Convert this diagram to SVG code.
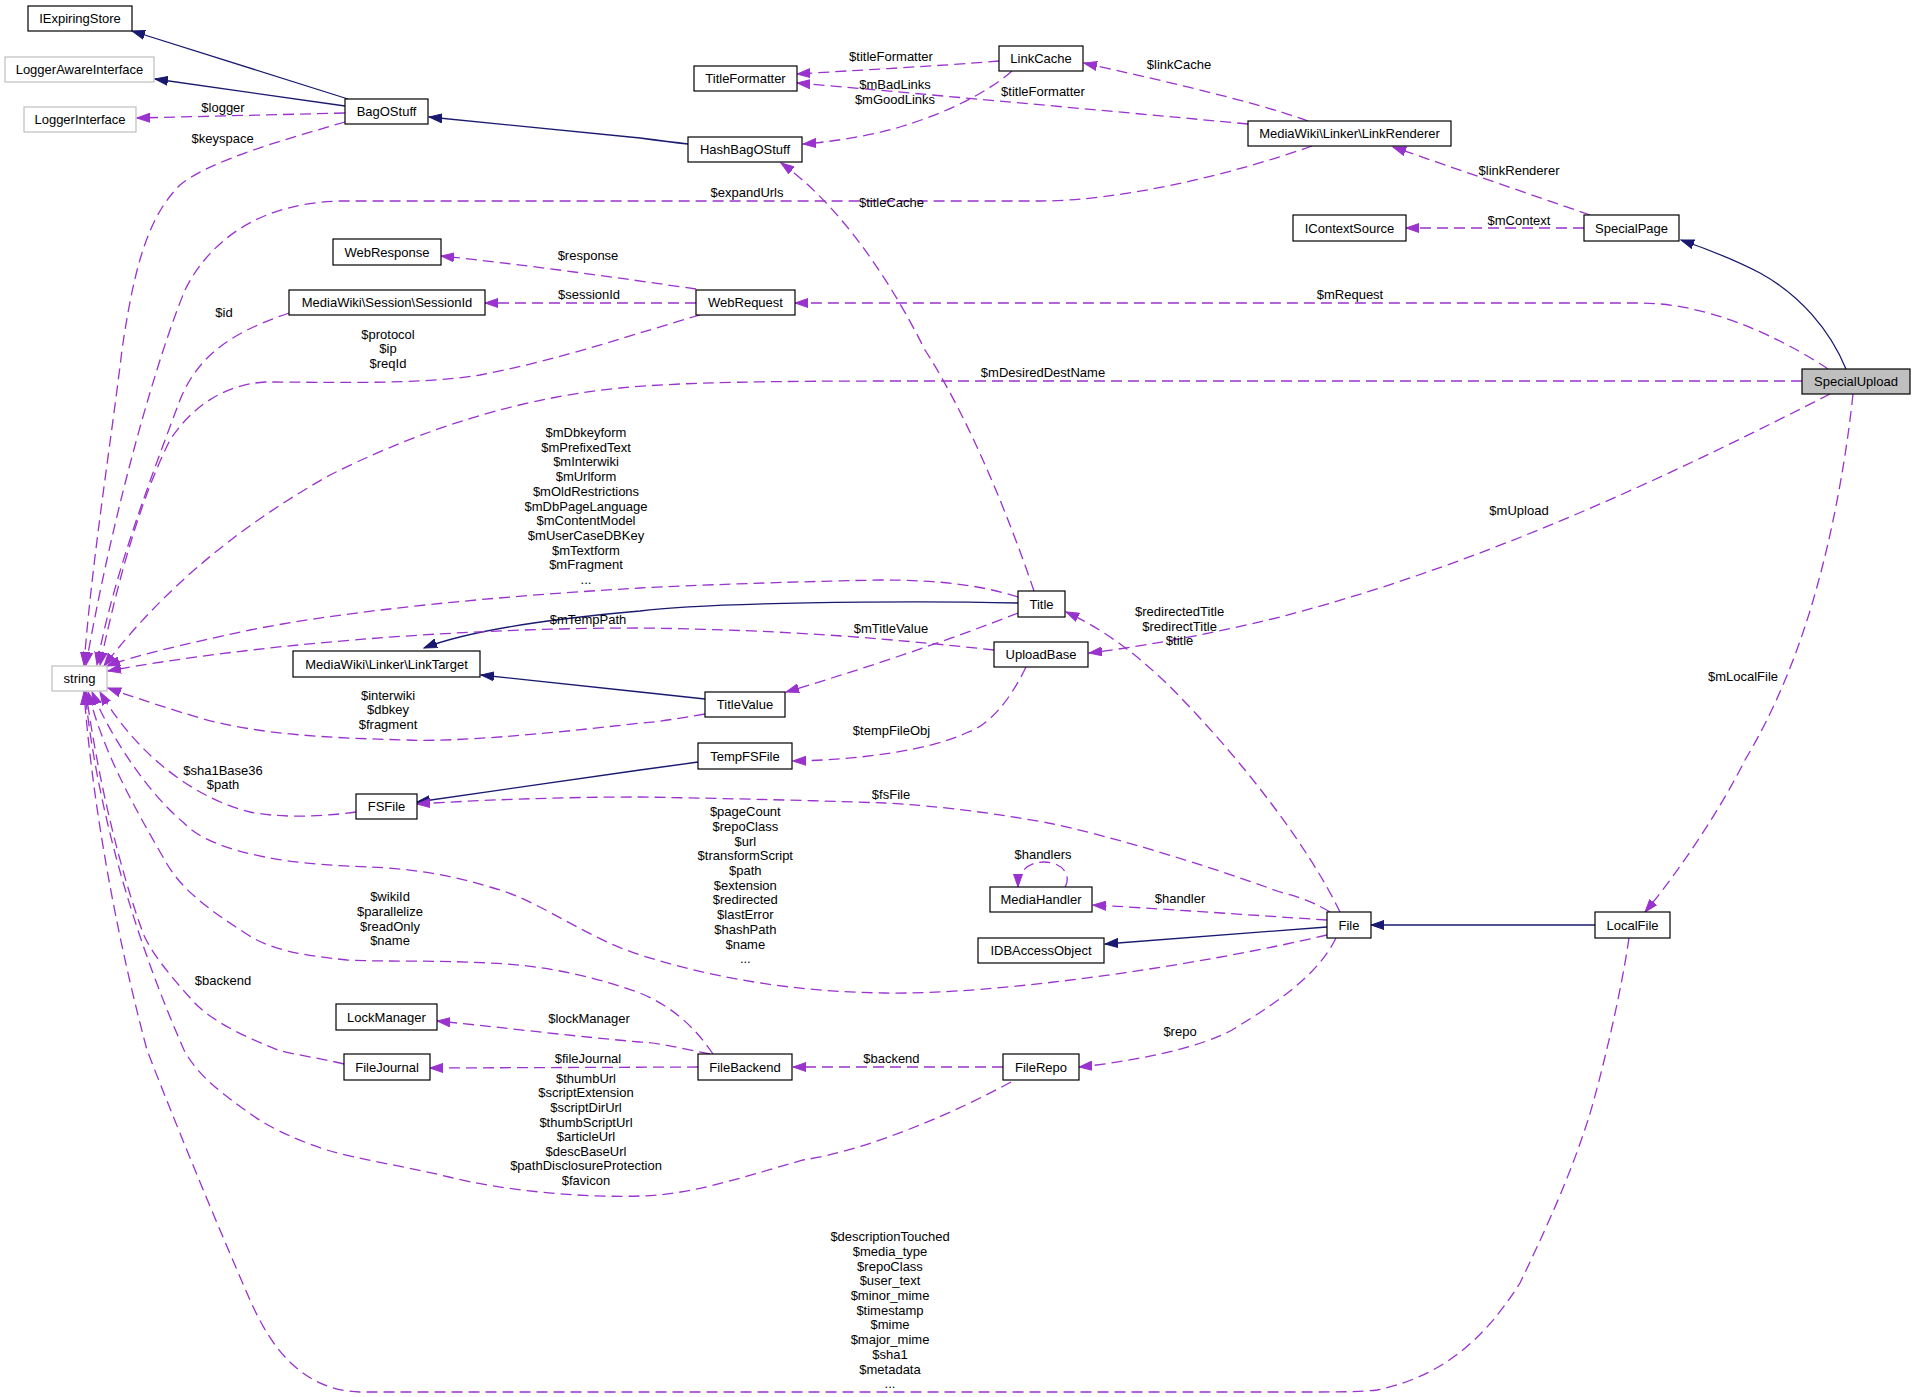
<svg xmlns="http://www.w3.org/2000/svg" width="1915" height="1397" viewBox="0 0 1915 1397">
<defs>
<marker id="an" markerUnits="userSpaceOnUse" markerWidth="14" markerHeight="10" refX="13" refY="5" orient="auto"><path d="M0,0.5 L13,5 L0,9.5 z" fill="#191970" stroke="#191970"/></marker>
<marker id="ap" markerUnits="userSpaceOnUse" markerWidth="14" markerHeight="10" refX="13" refY="5" orient="auto"><path d="M0,0.5 L13,5 L0,9.5 z" fill="#9a32cd" stroke="#9a32cd"/></marker>
<style>
.n rect{fill:#fff;stroke:#000;stroke-width:1.2}
.g rect{fill:#fff;stroke:#bfbfbf;stroke-width:1.2}
.s rect{fill:#bfbfbf;stroke:#000;stroke-width:1.2}
text{font-family:"Liberation Sans",Arial,sans-serif;font-size:13px;fill:#000;text-anchor:middle}
.inh{fill:none;stroke:#191970;stroke-width:1.3;marker-end:url(#an)}
.use{fill:none;stroke:#9a32cd;stroke-width:1.3;stroke-dasharray:11,6;marker-end:url(#ap)}
</style>
</defs>
<rect width="1915" height="1397" fill="#fff"/>
<g id="connectors">
<path class="inh" d="M348,99 L132,31"/>
<path class="inh" d="M345,106 L155,79"/>
<path class="inh" d="M688,144 C670,142 655,140 640,138 L429,117"/>
<path class="inh" d="M1846,369 C1830,330 1800,295 1760,273 C1735,260 1710,250 1681,240"/>
<path class="inh" d="M1018,603 C900,600 700,603 640,611 C560,618 470,630 424,648"/>
<path class="inh" d="M705,699 L640,692 L481,675"/>
<path class="inh" d="M698,762 L640,770 L417,802"/>
<path class="inh" d="M1327,927 L1105,944"/>
<path class="inh" d="M1595,925 L1371,925"/>

<path class="use" d="M345,113 L137,118"/>
<path class="use" d="M345,122 C290,138 210,160 180,185 C150,215 135,260 122,350 C110,450 92,560 84,665"/>
<path class="use" d="M1312,146 C1230,175 1120,201 1040,201 L340,201 C260,203 210,240 185,290 C160,350 115,500 86,665"/>
<path class="use" d="M999,61 C940,66 860,70 797,74"/>
<path class="use" d="M1012,71 C985,95 940,115 900,127 C870,136 830,142 803,144"/>
<path class="use" d="M1248,124 C1100,110 900,92 797,83"/>
<path class="use" d="M1308,121 C1250,100 1150,78 1084,63"/>
<path class="use" d="M1590,215 L1393,147"/>
<path class="use" d="M1584,228 L1406,228"/>
<path class="use" d="M1828,369 C1800,350 1720,303 1640,303 L795,303"/>
<path class="use" d="M696,289 C620,278 520,264 441,256"/>
<path class="use" d="M696,303 L485,303"/>
<path class="use" d="M289,313 C240,330 200,350 180,400 C150,480 112,580 97,665"/>
<path class="use" d="M700,315 C640,332 560,360 480,375 C420,385 330,382 265,382 C220,385 190,410 170,440 C140,500 118,580 100,665"/>
<path class="use" d="M1802,381 L900,381 C780,381 680,382 620,388 C500,400 400,440 330,475 C250,520 170,580 104,666"/>
<path class="use" d="M1018,597 C980,585 940,580 880,580 C780,582 700,585 640,588 C500,596 350,610 250,630 C180,645 130,657 107,666"/>
<path class="use" d="M1034,591 C1010,520 970,420 925,350 C890,280 840,205 781,163"/>
<path class="use" d="M1018,613 C950,640 860,670 786,692"/>
<path class="use" d="M994,650 C900,640 800,630 640,628 C450,628 250,645 108,671"/>
<path class="use" d="M1830,394 C1700,460 1500,560 1280,617 C1200,637 1130,648 1089,653"/>
<path class="use" d="M1340,912 C1310,850 1250,770 1183,700 C1150,665 1110,632 1066,612"/>
<path class="use" d="M1026,667 C1010,700 990,725 966,733 C930,750 860,760 793,761"/>
<path class="use" d="M705,714 C680,718 660,722 640,723 C540,735 450,742 408,740 C330,738 260,735 200,718 C150,703 125,694 108,688"/>
<path class="use" d="M356,812 C320,817 280,818 250,812 C200,800 140,760 100,692"/>
<path class="use" d="M1327,935 C1200,965 1000,995 885,993 C800,992 720,980 640,955 C580,935 540,900 490,887 C440,872 400,868 367,867 C320,865 290,862 265,857 C230,850 200,840 184,823 C150,795 112,740 92,692"/>
<path class="use" d="M713,1054 C700,1035 680,1010 640,993 C590,975 540,965 490,963 C430,960 390,962 347,960 C300,955 270,950 245,933 C210,910 180,890 163,857 C130,800 103,750 88,692"/>
<path class="use" d="M344,1064 C320,1058 295,1055 278,1050 C240,1035 210,1020 192,1000 C165,970 150,950 143,933 C120,870 98,780 86,692"/>
<path class="use" d="M1011,1082 C960,1110 870,1150 803,1160 C740,1178 690,1195 640,1196 C580,1198 500,1190 449,1177 C400,1165 360,1160 327,1150 C290,1138 265,1125 245,1110 C210,1085 195,1070 184,1050 C140,950 98,820 85,692"/>
<path class="use" d="M1629,938 C1620,1000 1600,1080 1589,1117 C1575,1160 1560,1200 1520,1283 C1490,1330 1450,1375 1377,1390 C1360,1392 1340,1392 1300,1392 L360,1392 C300,1390 270,1345 250,1300 C215,1220 170,1110 147,1050 C115,930 92,800 84,692"/>
<path class="use" d="M1330,912 C1310,900 1295,896 1280,892 C1150,845 1060,825 1048,823 C980,810 910,804 885,803 C800,800 700,798 640,797 C560,797 480,800 417,804"/>
<path class="use" d="M1327,920 C1250,915 1150,908 1093,905"/>
<path class="use" d="M1065,887 C1072,875 1062,862 1044,862 C1028,862 1018,872 1018,887"/>
<path class="use" d="M1336,938 C1320,970 1290,995 1232,1030 C1200,1048 1130,1062 1079,1067"/>
<path class="use" d="M1003,1067 L793,1067"/>
<path class="use" d="M698,1067 L430,1068"/>
<path class="use" d="M710,1054 C680,1048 660,1043 640,1042 C560,1035 500,1027 437,1021"/>
<path class="use" d="M1853,394 C1845,470 1830,540 1818,583 C1800,650 1775,710 1745,760 C1720,810 1680,870 1645,912"/>

<text x="223" y="112.2">$logger</text>
<text x="222.6" y="142.8">$keyspace</text>
<text x="891" y="61.2">$titleFormatter</text>
<text x="1043" y="95.8">$titleFormatter</text>
<text x="895" y="88.8">$mBadLinks</text>
<text x="895" y="103.5">$mGoodLinks</text>
<text x="1179" y="68.8">$linkCache</text>
<text x="747" y="196.8">$expandUrls</text>
<text x="891.5" y="206.8">$titleCache</text>
<text x="1519" y="175.2">$linkRenderer</text>
<text x="1519" y="224.5">$mContext</text>
<text x="588" y="259.5">$response</text>
<text x="589" y="298.8">$sessionId</text>
<text x="224" y="316.5">$id</text>
<text x="1350" y="299.2">$mRequest</text>
<text x="388" y="338.8">$protocol<tspan x="388" dy="14.6">$ip</tspan><tspan x="388" dy="14.6">$reqId</tspan></text>
<text x="1043" y="376.8">$mDesiredDestName</text>
<text x="586" y="437">$mDbkeyform<tspan x="586" dy="14.7">$mPrefixedText</tspan><tspan x="586" dy="14.7">$mInterwiki</tspan><tspan x="586" dy="14.7">$mUrlform</tspan><tspan x="586" dy="14.7">$mOldRestrictions</tspan><tspan x="586" dy="14.7">$mDbPageLanguage</tspan><tspan x="586" dy="14.7">$mContentModel</tspan><tspan x="586" dy="14.7">$mUserCaseDBKey</tspan><tspan x="586" dy="14.7">$mTextform</tspan><tspan x="586" dy="14.7">$mFragment</tspan><tspan x="586" dy="14.7">...</tspan></text>
<text x="1519" y="515.2">$mUpload</text>
<text x="1179.6" y="616.2">$redirectedTitle<tspan x="1179.6" dy="14.6">$redirectTitle</tspan><tspan x="1179.6" dy="14.6">$title</tspan></text>
<text x="588" y="623.8">$mTempPath</text>
<text x="891" y="632.8">$mTitleValue</text>
<text x="1743" y="681.2">$mLocalFile</text>
<text x="388" y="699.5">$interwiki<tspan x="388" dy="14.7">$dbkey</tspan><tspan x="388" dy="14.7">$fragment</tspan></text>
<text x="891.5" y="735.2">$tempFileObj</text>
<text x="223" y="775.2">$sha1Base36<tspan x="223" dy="14.2">$path</tspan></text>
<text x="891" y="798.8">$fsFile</text>
<text x="745.3" y="816.2">$pageCount<tspan x="745.3" dy="14.7">$repoClass</tspan><tspan x="745.3" dy="14.7">$url</tspan><tspan x="745.3" dy="14.7">$transformScript</tspan><tspan x="745.3" dy="14.7">$path</tspan><tspan x="745.3" dy="14.7">$extension</tspan><tspan x="745.3" dy="14.7">$redirected</tspan><tspan x="745.3" dy="14.7">$lastError</tspan><tspan x="745.3" dy="14.7">$hashPath</tspan><tspan x="745.3" dy="14.7">$name</tspan><tspan x="745.3" dy="14.7">...</tspan></text>
<text x="1043" y="858.8">$handlers</text>
<text x="1180" y="903.2">$handler</text>
<text x="390" y="901.2">$wikiId<tspan x="390" dy="14.7">$parallelize</tspan><tspan x="390" dy="14.7">$readOnly</tspan><tspan x="390" dy="14.7">$name</tspan></text>
<text x="223" y="984.5">$backend</text>
<text x="589" y="1022.8">$lockManager</text>
<text x="1180" y="1035.5">$repo</text>
<text x="588" y="1062.8">$fileJournal</text>
<text x="891.4" y="1062.8">$backend</text>
<text x="586" y="1082.8">$thumbUrl<tspan x="586" dy="14.6">$scriptExtension</tspan><tspan x="586" dy="14.6">$scriptDirUrl</tspan><tspan x="586" dy="14.6">$thumbScriptUrl</tspan><tspan x="586" dy="14.6">$articleUrl</tspan><tspan x="586" dy="14.6">$descBaseUrl</tspan><tspan x="586" dy="14.6">$pathDisclosureProtection</tspan><tspan x="586" dy="14.6">$favicon</tspan></text>
<text x="890" y="1241.2">$descriptionTouched<tspan x="890" dy="14.7">$media_type</tspan><tspan x="890" dy="14.7">$repoClass</tspan><tspan x="890" dy="14.7">$user_text</tspan><tspan x="890" dy="14.7">$minor_mime</tspan><tspan x="890" dy="14.7">$timestamp</tspan><tspan x="890" dy="14.7">$mime</tspan><tspan x="890" dy="14.7">$major_mime</tspan><tspan x="890" dy="14.7">$sha1</tspan><tspan x="890" dy="14.7">$metadata</tspan><tspan x="890" dy="14.7">...</tspan></text>
</g>

<g id="IExpiringStore" class="n"><rect x="28" y="6" width="104" height="25"/><text x="80" y="23">IExpiringStore</text></g>
<g id="LoggerAwareInterface" class="g"><rect x="5" y="57" width="149" height="25"/><text x="79.5" y="74">LoggerAwareInterface</text></g>
<g id="LoggerInterface" class="g"><rect x="24" y="107" width="112" height="25"/><text x="80" y="124">LoggerInterface</text></g>
<g id="BagOStuff" class="n"><rect x="345" y="99" width="83" height="25"/><text x="386.5" y="116">BagOStuff</text></g>
<g id="TitleFormatter" class="n"><rect x="694" y="66" width="103" height="25"/><text x="745.5" y="83">TitleFormatter</text></g>
<g id="LinkCache" class="n"><rect x="999" y="46" width="84" height="25"/><text x="1041" y="63">LinkCache</text></g>
<g id="HashBagOStuff" class="n"><rect x="688" y="137" width="114" height="25"/><text x="745" y="154">HashBagOStuff</text></g>
<g id="LinkRenderer" class="n"><rect x="1248" y="121" width="203" height="25"/><text x="1349.5" y="138">MediaWiki\Linker\LinkRenderer</text></g>
<g id="IContextSource" class="n"><rect x="1293" y="215" width="113" height="26"/><text x="1349.5" y="232.5">IContextSource</text></g>
<g id="SpecialPage" class="n"><rect x="1584" y="215" width="95" height="26"/><text x="1631.5" y="232.5">SpecialPage</text></g>
<g id="WebResponse" class="n"><rect x="333" y="239" width="108" height="26"/><text x="387" y="256.5">WebResponse</text></g>
<g id="SessionId" class="n"><rect x="289" y="290" width="196" height="25"/><text x="387" y="307">MediaWiki\Session\SessionId</text></g>
<g id="WebRequest" class="n"><rect x="696" y="290" width="99" height="25"/><text x="745.5" y="307">WebRequest</text></g>
<g id="SpecialUpload" class="s"><rect x="1802" y="369" width="108" height="25"/><text x="1856" y="386">SpecialUpload</text></g>
<g id="Title" class="n"><rect x="1018" y="591" width="47" height="26"/><text x="1041.5" y="608.5">Title</text></g>
<g id="UploadBase" class="n"><rect x="994" y="642" width="94" height="25"/><text x="1041" y="659">UploadBase</text></g>
<g id="LinkTarget" class="n"><rect x="293" y="651" width="187" height="26"/><text x="386.5" y="668.5">MediaWiki\Linker\LinkTarget</text></g>
<g id="string" class="g"><rect x="52" y="666" width="55" height="25"/><text x="79.5" y="683">string</text></g>
<g id="TitleValue" class="n"><rect x="705" y="692" width="80" height="25"/><text x="745" y="709">TitleValue</text></g>
<g id="TempFSFile" class="n"><rect x="698" y="743" width="94" height="26"/><text x="745" y="760.5">TempFSFile</text></g>
<g id="FSFile" class="n"><rect x="356" y="794" width="61" height="25"/><text x="386.5" y="811">FSFile</text></g>
<g id="MediaHandler" class="n"><rect x="990" y="887" width="102" height="25"/><text x="1041" y="904">MediaHandler</text></g>
<g id="File" class="n"><rect x="1327" y="912" width="44" height="26"/><text x="1349" y="929.5">File</text></g>
<g id="LocalFile" class="n"><rect x="1595" y="912" width="75" height="26"/><text x="1632.5" y="929.5">LocalFile</text></g>
<g id="IDBAccessObject" class="n"><rect x="978" y="938" width="126" height="25"/><text x="1041" y="955">IDBAccessObject</text></g>
<g id="LockManager" class="n"><rect x="336" y="1004" width="101" height="26"/><text x="386.5" y="1021.5">LockManager</text></g>
<g id="FileJournal" class="n"><rect x="344" y="1054" width="86" height="26"/><text x="387" y="1071.5">FileJournal</text></g>
<g id="FileBackend" class="n"><rect x="698" y="1054" width="94" height="26"/><text x="745" y="1071.5">FileBackend</text></g>
<g id="FileRepo" class="n"><rect x="1003" y="1054" width="76" height="26"/><text x="1041" y="1071.5">FileRepo</text></g>
</svg>
